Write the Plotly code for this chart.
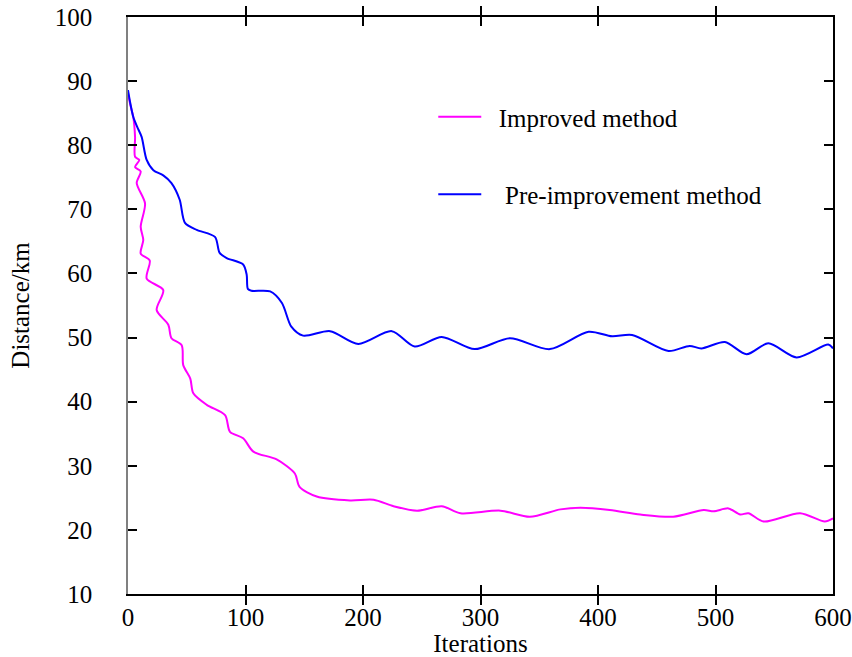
import plotly.graph_objects as go

# Pre-improvement method (blue)
pre_iter = [0, 2, 4.5, 8, 11.6, 15.9, 21.6, 30, 37, 44, 48.5, 58.5, 74, 78, 84, 98, 101, 102, 105,
            121, 131, 139, 149, 172, 196, 224.5, 244, 267, 295, 325, 359, 392, 412, 429, 460,
            478, 488, 508, 526.5, 545, 569, 596, 600]
pre_dist = [88.6, 86.5, 84.4, 82.8, 81.3, 77.7, 76.1, 75.3, 74.1, 71.5, 67.9, 66.8, 65.7, 63.2, 62.4,
            61.4, 59.8, 57.6, 57.3, 57.2, 55.4, 51.7, 50.3, 51.0, 49.0, 51.0, 48.6, 50.1, 48.2, 49.9,
            48.2, 50.9, 50.2, 50.4, 47.9, 48.7, 48.3, 49.3, 47.4, 49.1, 46.9, 48.9, 48.3]

# Improved method (magenta)
imp_iter = [0, 2, 4.5, 6, 6, 9.6, 6, 10.8, 7.4, 14.5, 10.8, 13, 10.8, 18.5, 15.9, 30, 24.4, 34.3,
            37, 45.7, 47, 53, 55.6, 67, 82.6, 86.8, 98, 106.7, 126.5, 142, 146, 160.6, 189, 209,
            226, 246, 267, 283, 317, 342, 368, 385, 410, 436, 464, 490, 498.5, 511, 521, 528,
            541, 572, 593, 600]
imp_dist = [88.1, 86.3, 84.4, 81.3, 78.2, 77.7, 76.6, 75.9, 74.1, 70.9, 67.3, 65.2, 63.1, 62.0, 59.2,
            57.4, 54.3, 52.0, 49.9, 48.8, 45.7, 43.6, 41.3, 39.5, 37.9, 35.3, 34.3, 32.2, 31.0, 28.8,
            26.7, 25.2, 24.6, 24.7, 23.7, 23.0, 23.7, 22.6, 23.0, 22.05, 23.2, 23.45, 23.1, 22.4,
            22.05, 23.1, 22.9, 23.35, 22.4, 22.6, 21.3, 22.6, 21.3, 21.8]

x_ticks = [0, 100, 200, 300, 400, 500, 600]
y_ticks = [10, 20, 30, 40, 50, 60, 70, 80, 90, 100]

FONT = "Liberation Serif"

fig = go.Figure()
fig.add_trace(go.Scatter(x=imp_iter, y=imp_dist, mode="lines", name="\u2002Improved method",
                         line=dict(color="#FF00FF", width=2, shape="spline", smoothing=0.8),
                         legendgroup="a"))
fig.add_trace(go.Scatter(x=pre_iter, y=pre_dist, mode="lines", name="\u2002 Pre-improvement method",
                         line=dict(color="#0000FF", width=2, shape="spline", smoothing=0.8),
                         legendgroup="b"))
# invisible trace to create right axis
fig.add_trace(go.Scatter(x=[None], y=[None], yaxis="y2", showlegend=False))

fig.update_layout(
    width=852, height=657,
    margin=dict(l=128, r=19, t=17, b=63, autoexpand=False),
    plot_bgcolor="white", paper_bgcolor="white",
    font=dict(family=FONT, size=25, color="black"),
    xaxis=dict(range=[0, 600], tickvals=x_ticks, ticks="inside", ticklen=9, tickwidth=1.5,
               tickcolor="black", showline=True, linecolor="black", linewidth=1.5,
               mirror="allticks", showgrid=False, zeroline=False, automargin=False,
               title=dict(text="Iterations", standoff=0, font=dict(size=25)),
               tickfont=dict(size=25)),
    yaxis=dict(range=[10, 100], tickvals=y_ticks, ticks="inside", ticklen=9, tickwidth=1.5,
               tickcolor="black", showline=True, linecolor="#808080", linewidth=1.5,
               showgrid=False, zeroline=False, ticklabelstandoff=29, automargin=False,
               title=dict(text="Distance/km", standoff=18, font=dict(size=25)),
               tickfont=dict(size=25)),
    yaxis2=dict(range=[10, 100], tickvals=y_ticks, ticks="inside", ticklen=9, tickwidth=1.5,
                tickcolor="black", showline=True, linecolor="black", linewidth=1.5,
                overlaying="y", side="right", showticklabels=False, showgrid=False,
                zeroline=False, automargin=False),
    legend=dict(x=0.433, y=0.8665, xanchor="left", yanchor="top", bgcolor="rgba(0,0,0,0)",
                traceorder="grouped", tracegroupgap=42, font=dict(size=25), itemwidth=43),
    showlegend=True,
)

fig.write_html("out.html", config={"displayModeBar": False},
               post_script="document.body.style.margin='0';document.body.style.overflow='hidden';")
